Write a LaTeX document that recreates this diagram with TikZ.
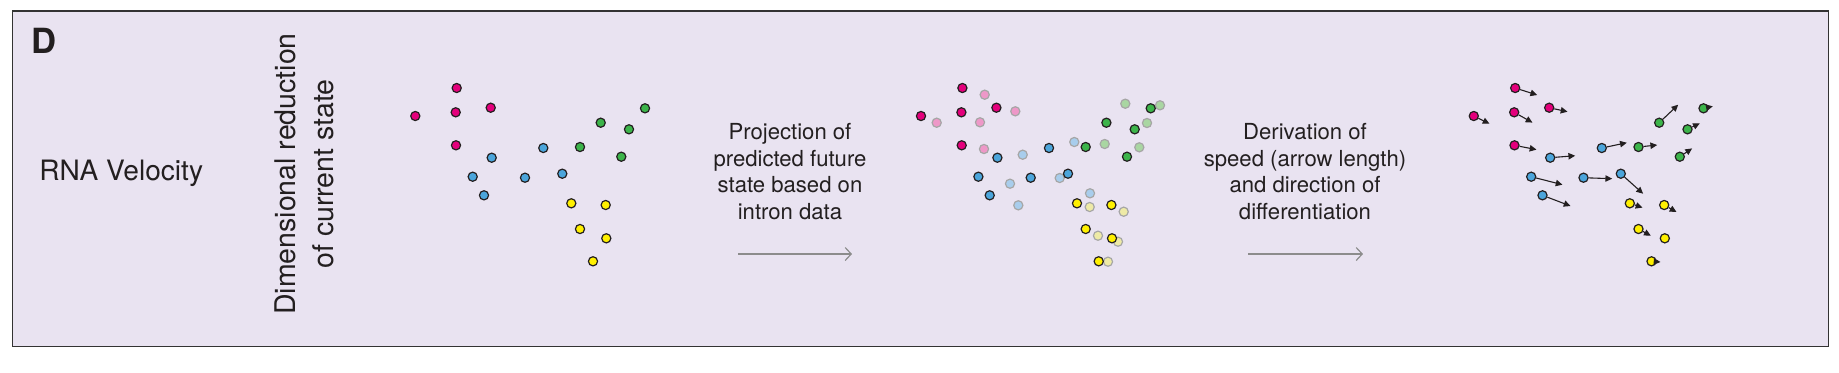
\documentclass[tikz,border=0pt]{standalone}
\usepackage{fontspec}
\setmainfont{TeX Gyre Heros}
\usetikzlibrary{arrows.meta}

\definecolor{panel}{HTML}{E9E3F1}
\definecolor{ink}{HTML}{231F20}
\definecolor{mag}{HTML}{E4007C}
\definecolor{blu}{HTML}{4BA5DB}
\definecolor{grn}{HTML}{3CB44A}
\definecolor{yel}{HTML}{FFF000}
\definecolor{magf}{HTML}{EE98C8}
\definecolor{bluf}{HTML}{A8CDEC}
\definecolor{grnf}{HTML}{A9D6A2}
\definecolor{yelf}{HTML}{EEEAA6}

% cell positions of the current state
\newcommand{\cellpos}{m1/456.7/88/mag, m2/415.3/116/mag, m3/455.7/112.3/mag,
  m4/490.7/107.7/mag, m5/456/145.3/mag,
  b1/491.7/157.7/blu, b2/472.7/176.7/blu, b3/484/195.3/blu,
  b4/525/177.7/blu, b5/543.3/148/blu, b6/562.3/173.7/blu,
  g1/580/147/grn, g2/600.7/122.7/grn, g3/629/129.3/grn,
  g4/645/108.3/grn, g5/621.3/156.7/grn,
  y1/571.3/203.3/yel, y2/605.7/205/yel, y3/580/229/yel,
  y4/606.3/238.3/yel, y5/593/261.3/yel}

\tikzset{
  cell/.style={circle, draw=ink, line width=0.6pt, minimum size=4.6pt, inner sep=0pt},
  ghost/.style={circle, draw=black!35, line width=0.6pt, minimum size=4.6pt, inner sep=0pt},
  vel/.style={-{Triangle[length=3.4pt,width=3.2pt]}, line width=0.55pt, draw=ink},
  flow/.style={-{Straight Barb[length=3pt,width=6.5pt]}, line width=0.6pt, draw=black!45},
  caption/.style={align=center, text=ink, font=\fontsize{11.1pt}{13.4pt}\selectfont}
}

\begin{document}
\begin{tikzpicture}[x=0.5bp, y=-0.5bp]
	\useasboundingbox (0,0) rectangle (1839,372);

	%panel
	\draw[fill=panel, draw=black!80, line width=0.7pt] (12.3,11) rectangle (1828.7,346.7);
	\node[anchor=west, inner sep=0pt, text=ink, font=\bfseries\fontsize{17.4pt}{20pt}\selectfont]
		(tag) at (31,40.5) {D};
	\node[anchor=base west, inner sep=0pt, text=ink, font=\fontsize{14.1pt}{17pt}\selectfont]
		(title) at (39,180) {RNA Velocity};
	\node[rotate=90, align=center, inner sep=0pt, text=ink, font=\fontsize{14.3pt}{19pt}\selectfont]
		(dimred) at (304,174) {Dimensional reduction\\of current state};

	%current state
	\foreach \n/\x/\y/\c in \cellpos
		\node[cell, fill=\c] (c\n) at (\x,\y) {};

	%projection
	\node[caption] (proj) at (790,171.5) {Projection of\\predicted future\\state based on\\intron data};
	\coordinate (pa) at (738,254);
	\coordinate (pb) at (852,254);
	\draw[flow] (pa) -- (pb);

	%future state
	\begin{scope}[shift={(505.7,0)}]
		\foreach \x/\y/\c [count=\k] in {479/94.7/magf, 431/122.7/magf, 474.3/122.3/magf,
			509.6/111.3/magf, 478.3/149/magf, 517/154.7/bluf, 504.3/183.7/bluf,
			512.6/205.3/bluf, 554/178/bluf, 568.6/142/bluf, 584.3/193.3/bluf,
			599/144/grnf, 619.6/103.7/grnf, 641.3/123/grnf, 654.3/105.3/grnf,
			633.6/147.3/grnf, 584/207/yelf, 618/211.7/yelf, 592.3/235.7/yelf,
			612.3/241.7/yelf, 602.3/261.7/yelf}
			\node[ghost, fill=\c] (fg\k) at (\x,\y) {};
		\foreach \n/\x/\y/\c in \cellpos
			\node[cell, fill=\c] (f\n) at (\x,\y) {};
	\end{scope}

	%derivation
	\node[caption] (deriv) at (1305,171.5) {Derivation of\\speed (arrow length)\\and direction of\\differentiation};
	\coordinate (da) at (1248,254);
	\coordinate (db) at (1363,254);
	\draw[flow] (da) -- (db);

	%velocity
	\begin{scope}[shift={(1058.5,0)}]
		\foreach \n/\x/\y/\c in \cellpos
			\node[cell, fill=\c] (v\n) at (\x,\y) {};
		\foreach \n/\dx/\dy in {m1/22/7, m2/15.7/7.7, m3/18.3/10.3, m4/18.3/4, m5/22/4.3,
			b1/25/-2, b2/31.3/8, b3/28/10.7, b4/28.7/1, b5/25/-5.3, b6/22.3/20,
			g1/18.7/-2, g2/19/-18, g3/12.3/-6, g4/9.3/-2, g5/12.3/-8.3,
			y1/12.7/4.3, y2/12.3/7, y3/12.3/6.7, y5/9/0.7}
		{
			\path (v\n.center) ++(\dx,\dy) coordinate (v\n-tip);
			\draw[vel] (v\n) -- (v\n-tip);
		}
	\end{scope}
\end{tikzpicture}
\end{document}
